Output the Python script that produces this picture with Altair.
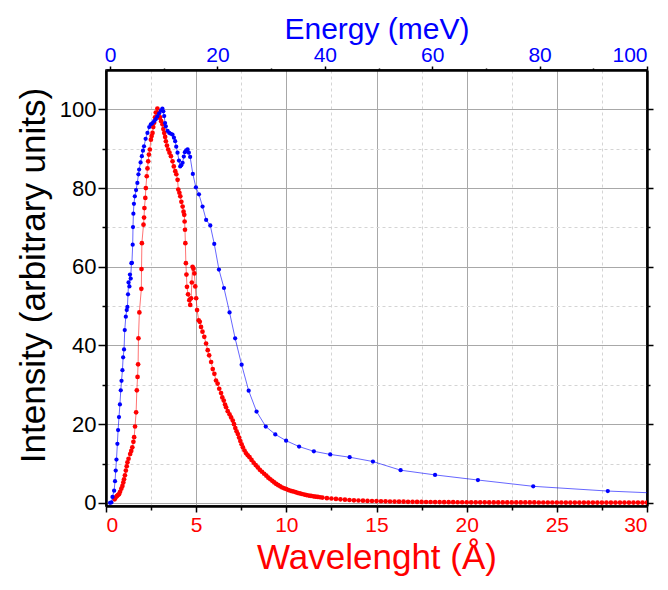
import altair as alt
import pandas as pd

# ---- Red series: intensity vs wavelength (Å) ----
red_lam = [0.48, 0.54, 0.60, 0.66, 0.72, 0.78, 0.85, 0.91, 0.96, 1.00, 1.05, 1.10, 1.15, 1.19, 1.25,
           1.34, 1.40, 1.46, 1.52, 1.56, 1.61, 1.67, 1.71, 1.75, 1.78, 1.80, 1.85, 1.96, 1.97, 1.99,
           2.08, 2.11, 2.13, 2.18, 2.21, 2.26, 2.30, 2.34, 2.38, 2.43, 2.49, 2.53, 2.58, 2.62, 2.67,
           2.72, 2.76, 2.85, 2.90, 2.95, 3.00, 3.06, 3.13, 3.18, 3.23, 3.28, 3.32, 3.38, 3.45, 3.52,
           3.60, 3.69, 3.76, 3.84, 3.90, 3.97, 4.01, 4.07, 4.12, 4.18, 4.25, 4.30, 4.34, 4.36, 4.38,
           4.40, 4.43, 4.46, 4.49, 4.55, 4.62, 4.67, 4.72, 4.76, 4.80, 4.85, 4.90, 4.95, 5.00, 5.05,
           5.14, 5.20, 5.27, 5.35, 5.45, 5.55, 5.64, 5.72, 5.83, 5.92, 6.01, 6.10, 6.19, 6.28, 6.38,
           6.45, 6.53, 6.60, 6.66, 6.75, 6.85, 6.94, 7.03, 7.10, 7.17, 7.24, 7.31, 7.38, 7.45, 7.52,
           7.59, 7.68, 7.77, 7.86, 7.96, 8.07, 8.19, 8.30, 8.42, 8.53, 8.65, 8.77, 8.89, 9.00, 9.11,
           9.22, 9.33, 9.44, 9.55, 9.66, 9.77, 9.88, 10.00, 10.12, 10.25, 10.37, 10.50, 10.62, 10.75,
           10.87, 11.00, 11.12, 11.25, 11.37, 11.50, 11.62, 11.75, 11.87, 12.00, 12.25, 12.50, 12.75,
           13.00, 13.25, 13.50, 13.75, 14.00, 14.25, 14.50, 14.75, 15.00, 15.25, 15.50, 15.75, 16.00,
           16.25, 16.50, 16.75, 17.00, 17.25, 17.50, 17.75, 18.00, 18.25, 18.50, 18.75, 19.00, 19.25,
           19.50, 19.75, 20.00, 20.25, 20.50, 20.75, 21.00, 21.25, 21.50, 21.75, 22.00, 22.25, 22.50,
           22.75, 23.00, 23.25, 23.50, 23.75, 24.00, 24.25, 24.50, 24.75, 25.00, 25.25, 25.50, 25.75,
           26.00, 26.25, 26.50, 26.75, 27.00, 27.25, 27.50, 27.75, 28.00, 28.25, 28.50, 28.75, 29.00,
           29.25, 29.50, 29.75, 30.00]
red_int = [0.9, 1.4, 1.7, 2.0, 2.2, 2.8, 3.6, 4.3, 5.2, 6.0, 7.0, 8.2, 9.3, 10.3, 11.2,
           12.4, 13.2, 14.1, 15.5, 16.7, 19.4, 23.0, 28.6, 32.0, 35.2, 41.8, 48.4, 54.4, 59.4, 66.0,
           70.7, 72.5, 74.9, 77.5, 80.0, 83.0, 85.0, 86.8, 88.5, 89.8, 92.3, 93.2, 94.0, 95.5, 96.6,
           98.0, 99.2, 100.2, 99.0, 97.9, 98.0, 97.0, 96.2, 95.0, 94.0, 93.0, 91.9, 90.8, 89.8, 89.0,
           88.1, 86.8, 85.5, 84.3, 83.5, 82.1, 79.6, 78.8, 77.9, 76.5, 75.3, 74.0, 73.2, 71.5, 69.4,
           66.0, 60.9, 58.0, 54.9, 53.0, 51.5, 50.3, 52.0, 56.0, 60.0, 59.5, 58.3, 55.0, 52.0, 49.0,
           46.4, 46.0, 44.7, 43.5, 42.2, 40.5, 38.8, 37.5, 35.8, 34.0, 32.8, 31.1, 30.3, 29.0, 27.9,
           26.8, 26.0, 25.0, 24.3, 23.3, 22.5, 21.7, 20.9, 20.0, 19.0, 18.2, 17.5, 16.6, 15.7, 14.9,
           14.1, 13.3, 12.6, 12.1, 11.6, 10.9, 10.2, 9.6, 9.0, 8.4, 7.9, 7.4, 6.9, 6.4, 6.0,
           5.6, 5.2, 4.8, 4.5, 4.2, 3.9, 3.7, 3.5, 3.25, 3.05, 2.9, 2.75, 2.55, 2.4,
           2.25, 2.1, 1.97, 1.85, 1.75, 1.65, 1.57, 1.5, 1.42, 1.35, 1.2, 1.1, 1.0,
           0.9, 0.8, 0.72, 0.65, 0.6, 0.55, 0.5, 0.47, 0.44, 0.4, 0.38, 0.35, 0.33,
           0.31, 0.29, 0.27, 0.25, 0.24, 0.23, 0.22, 0.21, 0.2, 0.19, 0.18, 0.17, 0.17,
           0.16, 0.15, 0.15, 0.14, 0.14, 0.13, 0.13, 0.12, 0.12, 0.12, 0.11, 0.11, 0.11,
           0.1, 0.1, 0.1, 0.1, 0.1, 0.09, 0.09, 0.09, 0.09, 0.09, 0.09, 0.08, 0.08,
           0.08, 0.08, 0.08, 0.08, 0.07, 0.07, 0.07, 0.07, 0.07, 0.07, 0.07, 0.07, 0.06,
           0.06, 0.06, 0.06, 0.06]

# ---- Blue series: intensity vs energy (meV) ----
blue_e = [0.0, 0.26, 0.46, 0.76, 0.93, 1.06, 1.20, 1.37, 1.50, 1.67, 1.84, 2.00, 2.14, 2.31, 2.44,
          2.61, 2.74, 2.94, 3.11, 3.24, 3.35, 3.45, 3.61, 3.71, 3.85, 3.98, 4.08, 4.22, 4.28, 4.35,
          4.45, 4.62, 4.85, 5.09, 5.29, 5.42, 5.69, 5.93, 6.13, 6.33, 6.63, 6.97, 7.30, 7.60, 7.91,
          8.21, 8.51, 8.81, 9.15, 9.48, 9.75, 9.92, 10.09, 10.25, 10.39, 10.72, 11.03, 11.33, 11.63,
          11.90, 12.13, 12.33, 12.57, 12.84, 13.07, 13.27, 13.51, 13.74, 13.94, 14.18, 14.45, 14.68,
          14.92, 15.42, 15.99, 16.56, 17.23, 17.90, 18.67, 19.41, 20.28, 21.22, 22.26, 23.30, 24.51,
          25.82, 27.29, 29.00, 30.78, 32.79, 35.21, 37.96, 41.01, 44.63, 48.96, 54.12, 60.53, 68.51,
          78.81, 92.70, 110.0]
blue_int = [0.0, 0.1, 1.5, 3.1, 5.5, 8.2, 11.0, 15.0, 18.5, 21.8, 25.0, 28.6, 31.0, 33.7, 37.0,
            39.0, 43.9, 47.3, 49.0, 49.8, 53.0, 56.0, 55.0, 58.0, 57.0, 60.9, 61.0, 65.6, 70.1, 73.5,
            76.0, 77.9, 79.5, 81.3, 83.5, 84.7, 86.5, 88.1, 89.5, 90.6, 92.5, 94.0, 95.5, 96.2, 96.5,
            97.0, 97.5, 98.2, 99.0, 99.7, 100.2, 99.5, 98.3, 96.5, 95.7, 94.5, 94.0, 93.8, 93.6,
            92.8, 91.9, 90.5, 89.0, 87.0, 85.5, 85.8, 86.4, 88.0, 89.1, 89.6, 89.8, 89.0,
            87.9, 83.6, 80.2, 78.4, 75.3, 71.9, 70.5, 65.8, 59.3, 54.6, 48.4, 41.8, 35.1,
            28.5, 23.2, 19.4, 17.4, 15.8, 14.3, 13.1, 12.3, 11.6, 10.5, 8.3, 7.1, 5.8,
            4.2, 3.0, 2.0]

lam_ticks = [0, 2.5, 5, 7.5, 10, 12.5, 15, 17.5, 20, 22.5, 25, 27.5, 30]
int_ticks = [0, 10, 20, 30, 40, 50, 60, 70, 80, 90, 100]
e_ticks = [0, 10, 20, 30, 40, 50, 60, 70, 80, 90, 100]

red_df = pd.DataFrame({"lam": red_lam, "I": red_int})
blue_df = pd.DataFrame({"E": blue_e, "I": blue_int})

FONT = "Liberation Sans"
RED = "#ff0000"
BLUE = "#0000ff"

x_scale = alt.Scale(domain=[0, 30], nice=False, zero=False)
e_scale = alt.Scale(domain=[-0.75, 100], nice=False, zero=False)
y_scale = alt.Scale(domain=[-0.8, 110], nice=False, zero=False)

x_axis = alt.Axis(
    orient="bottom", values=lam_ticks, title="Wavelenght (Å)",
    labelExpr="datum.value % 5 === 0 ? datum.label : ''",
    labelColor=RED, labelFontSize=21, labelFont=FONT, labelPadding=2,
    titleColor=RED, titleFontSize=35, titleFont=FONT, titleFontWeight="normal", titlePadding=5,
    grid=True,
    gridColor={"condition": {"test": "datum.value % 5 !== 0", "value": "#d4d4d4"}, "value": "#a8a8a8"},
    gridDash={"condition": {"test": "datum.value % 5 !== 0", "value": [3, 3]}, "value": []},
    gridWidth=1,
    tickSize={"condition": {"test": "datum.value % 5 !== 0", "value": 4}, "value": 6},
    tickColor="black", tickWidth=1.5,
    domainColor="black", domainWidth=2.5,
)
y_axis = alt.Axis(
    orient="left", values=int_ticks, title="Intensity (arbitrary units)",
    labelExpr="datum.value % 20 === 0 ? datum.label : ''",
    labelColor="black", labelFontSize=22, labelFont=FONT, labelPadding=2,
    titleColor="black", titleFontSize=35, titleFont=FONT, titleFontWeight="normal", titlePadding=8,
    titleY=205,
    grid=True,
    gridColor={"condition": {"test": "datum.value % 20 !== 0", "value": "#d4d4d4"}, "value": "#a8a8a8"},
    gridDash={"condition": {"test": "datum.value % 20 !== 0", "value": [3, 3]}, "value": []},
    gridWidth=1,
    tickSize={"condition": {"test": "datum.value % 20 !== 0", "value": 4}, "value": 8},
    tickColor="black", tickWidth=1.5,
    domainColor="black", domainWidth=2.5,
)
e_axis = alt.Axis(
    orient="top", values=e_ticks, title="Energy (meV)",
    labelExpr="datum.value % 20 === 0 ? datum.label : ''",
    labelColor=BLUE, labelFontSize=21, labelFont=FONT, labelPadding=1,
    titleColor=BLUE, titleFontSize=30, titleFont=FONT, titleFontWeight="normal", titlePadding=0,
    grid=False,
    tickSize={"condition": {"test": "datum.value % 20 !== 0", "value": 2}, "value": 4},
    tickColor="black", tickWidth=1.5,
    domainColor="black", domainWidth=2.5,
)
r_axis = alt.Axis(
    orient="right", values=int_ticks, title=None, labels=False, grid=False,
    tickSize={"condition": {"test": "datum.value % 20 !== 0", "value": 3}, "value": 6},
    tickColor="black", tickWidth=1.5,
    domainColor="black", domainWidth=2.5,
)

red_base = alt.Chart(red_df).encode(
    x=alt.X("lam:Q", scale=x_scale, axis=x_axis),
    y=alt.Y("I:Q", scale=y_scale, axis=y_axis),
    order=alt.Order("lam:Q"),
)
red_layer = alt.layer(
    red_base.mark_line(color=RED, strokeWidth=1, opacity=0.55, clip=True),
    red_base.mark_point(color=RED, filled=True, size=22, opacity=1, clip=True, shape="circle"),
)

blue_base = alt.Chart(blue_df).encode(
    x=alt.X("E:Q", scale=e_scale, axis=e_axis),
    y=alt.Y("I:Q", scale=y_scale, axis=r_axis),
    order=alt.Order("E:Q"),
)
blue_layer = alt.layer(
    blue_base.mark_line(color=BLUE, strokeWidth=1, opacity=0.6, clip=True),
    blue_base.mark_point(color=BLUE, filled=True, size=18, opacity=1, clip=True, shape="circle"),
)

chart = alt.layer(red_layer, blue_layer).resolve_scale(
    x="independent", y="independent"
).properties(
    width=541, height=436,
    autosize=alt.AutoSizeParams(type="none"),
    padding={"left": 98, "top": 62, "right": 13, "bottom": 76},
).configure_view(stroke="black", strokeWidth=1.5)

chart.save("out.html", embed_options={"renderer": "svg", "actions": False})
